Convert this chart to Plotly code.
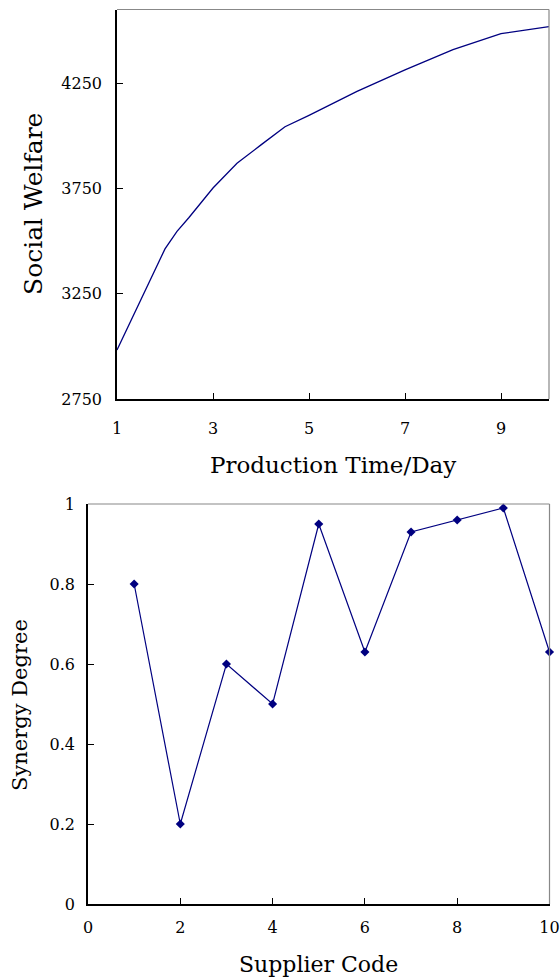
import plotly.graph_objects as go

# Top chart data
prod_days = [1, 1.5, 2, 2.25, 2.5, 3, 3.5, 4, 4.5, 5, 6, 7, 8, 9, 10]
social_welfare = [2983, 3220, 3463, 3546, 3612, 3752, 3870, 3957, 4043, 4097, 4211, 4313, 4409, 4485, 4519]
top_xticks = [1, 3, 5, 7, 9]
top_yticks = [2750, 3250, 3750, 4250]

# Bottom chart data
supplier_code = [1, 2, 3, 4, 5, 6, 7, 8, 9, 10]
synergy_degree = [0.8, 0.2, 0.6, 0.5, 0.95, 0.63, 0.93, 0.96, 0.99, 0.63]
bot_xticks = [0, 2, 4, 6, 8, 10]
bot_yticks = [0, 0.2, 0.4, 0.6, 0.8, 1]
bot_yticklabels = ["0", "0.2", "0.4", "0.6", "0.8", "1"]

W, H = 560, 977
NAVY = "#000080"
FONT = "DejaVu Serif"

def px_x(p):
    return p / W

def px_y(p):
    return 1 - p / H

fig = go.Figure()
fig.add_trace(go.Scatter(x=prod_days, y=social_welfare, mode="lines",
                         line=dict(color=NAVY, width=1.3), xaxis="x", yaxis="y",
                         showlegend=False))
fig.add_trace(go.Scatter(x=supplier_code, y=synergy_degree, mode="lines+markers",
                         line=dict(color=NAVY, width=1.2),
                         marker=dict(symbol="diamond", size=7, color=NAVY),
                         xaxis="x2", yaxis="y2", showlegend=False, cliponaxis=False))

axis_common = dict(showgrid=False, zeroline=False, showline=True, linecolor="black",
                   linewidth=1.5, ticks="inside", ticklen=6, tickcolor="black",
                   tickwidth=1, mirror=False, automargin=False)

fig.update_layout(
    width=W, height=H,
    margin=dict(l=0, r=0, t=0, b=0),
    paper_bgcolor="white", plot_bgcolor="white",
    xaxis=dict(domain=[px_x(117), px_x(549)], range=[1, 10], tickvals=top_xticks,
               anchor="y", tickfont=dict(family=FONT, size=16, color="black"),
               ticklabelstandoff=14, **axis_common),
    yaxis=dict(domain=[px_y(399), px_y(9.5)], range=[2750, 4600], tickvals=top_yticks,
               anchor="x", tickfont=dict(family=FONT, size=16, color="black"),
               ticklabelstandoff=10, **axis_common),
    xaxis2=dict(domain=[px_x(88), px_x(549.5)], range=[0, 10], tickvals=bot_xticks,
                anchor="y2", tickfont=dict(family=FONT, size=16, color="black"),
                ticklabelstandoff=8, **axis_common),
    yaxis2=dict(domain=[px_y(904), px_y(504)], range=[0, 1], tickvals=bot_yticks,
                ticktext=bot_yticklabels,
                anchor="x2", tickfont=dict(family=FONT, size=16, color="black"),
                ticklabelstandoff=8, **axis_common),
)

shapes = []
for xr, yr in (("x domain", "y domain"), ("x2 domain", "y2 domain")):
    shapes.append(dict(type="line", xref=xr, yref=yr, x0=0, x1=1, y0=1, y1=1,
                       line=dict(color="#888888", width=1.2)))
    shapes.append(dict(type="line", xref=xr, yref=yr, x0=1, x1=1, y0=0, y1=1,
                       line=dict(color="#888888", width=1.2)))
fig.update_layout(shapes=shapes)

annotations = [
    dict(text="Production Time/Day", x=px_x(333), y=px_y(465), xref="paper", yref="paper",
         showarrow=False, font=dict(family=FONT, size=23, color="black"),
         xanchor="center", yanchor="middle"),
    dict(text="Social Welfare", x=px_x(33), y=px_y(204), xref="paper", yref="paper",
         showarrow=False, textangle=-90, font=dict(family=FONT, size=25, color="black"),
         xanchor="center", yanchor="middle"),
    dict(text="Supplier Code", x=px_x(318), y=px_y(964), xref="paper", yref="paper",
         showarrow=False, font=dict(family=FONT, size=22, color="black"),
         xanchor="center", yanchor="middle"),
    dict(text="Synergy Degree", x=px_x(20), y=px_y(705), xref="paper", yref="paper",
         showarrow=False, textangle=-90, font=dict(family=FONT, size=21, color="black"),
         xanchor="center", yanchor="middle"),
]
fig.update_layout(annotations=annotations)

fig.write_html("out.html", config={"displayModeBar": False},
               post_script="document.body.style.margin='0';document.body.style.overflow='hidden';")
